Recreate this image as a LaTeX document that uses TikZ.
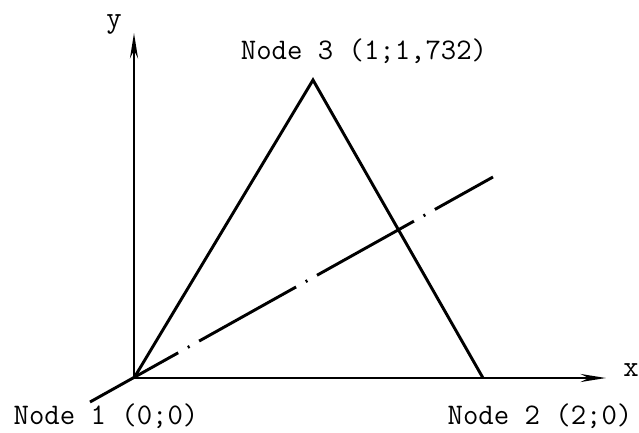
\documentclass[tikz,border=0pt]{standalone}
\usepackage{fontspec}
\usetikzlibrary{arrows.meta}
\begin{document}
\begin{tikzpicture}[x=0.75pt,y=-0.75pt,
  line width=2.2pt,
  axis/.style={-{Stealth[length=19pt,width=6pt]}},
  edge/.style={line join=miter},
  dashdot/.style={dash pattern=on 83.25pt off 8.25pt on 1.5pt off 8.25pt, dash phase=7.5pt},
  lbl/.style={font=\ttfamily\fontsize{22.4pt}{26pt}\selectfont, inner sep=0pt, anchor=base}]
\useasboundingbox (0,0) rectangle (639,432);
\coordinate (n1) at (134,378);
\coordinate (n2) at (483,378);
\coordinate (n3) at (313,80);
\coordinate (xend) at (606,378);
\coordinate (yend) at (134,33);
\coordinate (ls) at (90,402);
\coordinate (le) at (493,177);
\draw[axis] (n1) -- (xend);
\draw[axis] (n1) -- (yend);
\draw[edge] (n1) -- (n3) -- (n2);
\draw[dashdot] (ls) -- (le);
\node[lbl] (t1) at (106,424) {Node 1 (0;0)};
\node[lbl] (t2) at (540,424) {Node 2 (2;0)};
\node[lbl] (t3) at (364,59) {Node 3 (1;1,732)};
\node[lbl] (tx) at (631,376) {x};
\node[lbl] (ty) at (114,27) {y};
\end{tikzpicture}
\end{document}
